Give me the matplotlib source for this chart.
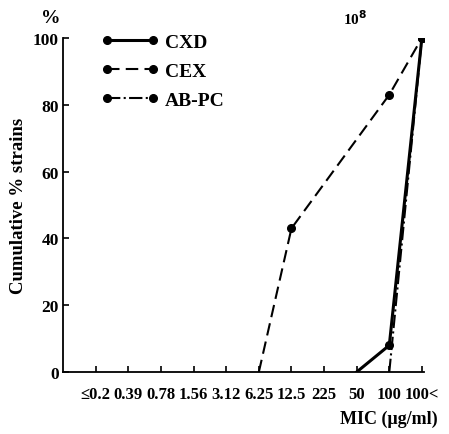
import numpy as np
import matplotlib
matplotlib.use("Agg")
import matplotlib.pyplot as plt

plt.rcParams['font.family'] = ['Liberation Serif', 'DejaVu Serif']
plt.rcParams['font.weight'] = 'bold'
plt.rcParams['axes.labelweight'] = 'bold'

# MIC categories (ug/ml)
mic_labels = ["≤0.2", "0.39", "0.78", "1.56", "3.12", "6.25", "12.5", "225", "50", "100", "100<"]

# cumulative % strains, (category index, value)
cxd_x = [8, 9, 10]
cxd_y = [0, 8, 100]
cex_x = [5, 6, 9, 10]
cex_y = [0, 43, 83, 100]
abpc_x = [9, 10]
abpc_y = [0, 100]

fig = plt.figure(figsize=(4.49, 4.35), dpi=100)
ax = fig.add_axes([0.140, 0.1425, 0.804, 0.768])

ax.plot(cxd_x, cxd_y, color='black', lw=2.2, ls='-', marker='o', ms=5.5,
        markevery=[1, 2], label='CXD')
ax.plot(cex_x, cex_y, color='black', lw=1.5, ls=(0, (6, 3)), marker='o', ms=5.5,
        markevery=[1, 2, 3], label='CEX')
ax.plot(abpc_x, abpc_y, color='black', lw=1.5, ls='-.', marker='o', ms=5.5,
        markevery=[1], label='AB-PC')

ax.set_xlim(-1.01, 10.06)
ax.set_ylim(0, 100)
ax.set_xticks(np.arange(len(mic_labels)))
ax.set_xticklabels(mic_labels)
ax.set_yticks([0, 20, 40, 60, 80, 100])
ax.tick_params(axis='both', direction='in', length=4, width=1.2)
ax.tick_params(axis='x', pad=10, labelsize=12)
ax.tick_params(axis='y', pad=3, labelsize=12.5)
for s in ['top', 'right']:
    ax.spines[s].set_visible(False)
for s in ['left', 'bottom']:
    ax.spines[s].set_linewidth(1.3)

ax.set_ylabel("Cumulative % strains", fontsize=13.5, labelpad=4)
fig.text(0.975, 0.035, "MIC (μg/ml)", ha='right', va='center', fontsize=13)
fig.text(0.79, 0.958, "10$^8$", ha='center', va='center', fontsize=11)
fig.text(0.112, 0.958, "%", ha='center', va='center', fontsize=14)

leg = ax.legend(loc='upper left', bbox_to_anchor=(0.105, 1.015), frameon=False,
                numpoints=2, handlelength=3.0, handletextpad=0.3,
                labelspacing=0.6, borderpad=0, borderaxespad=0,
                prop={'size': 14, 'weight': 'bold'})

fig.savefig("out.png", dpi=100)
